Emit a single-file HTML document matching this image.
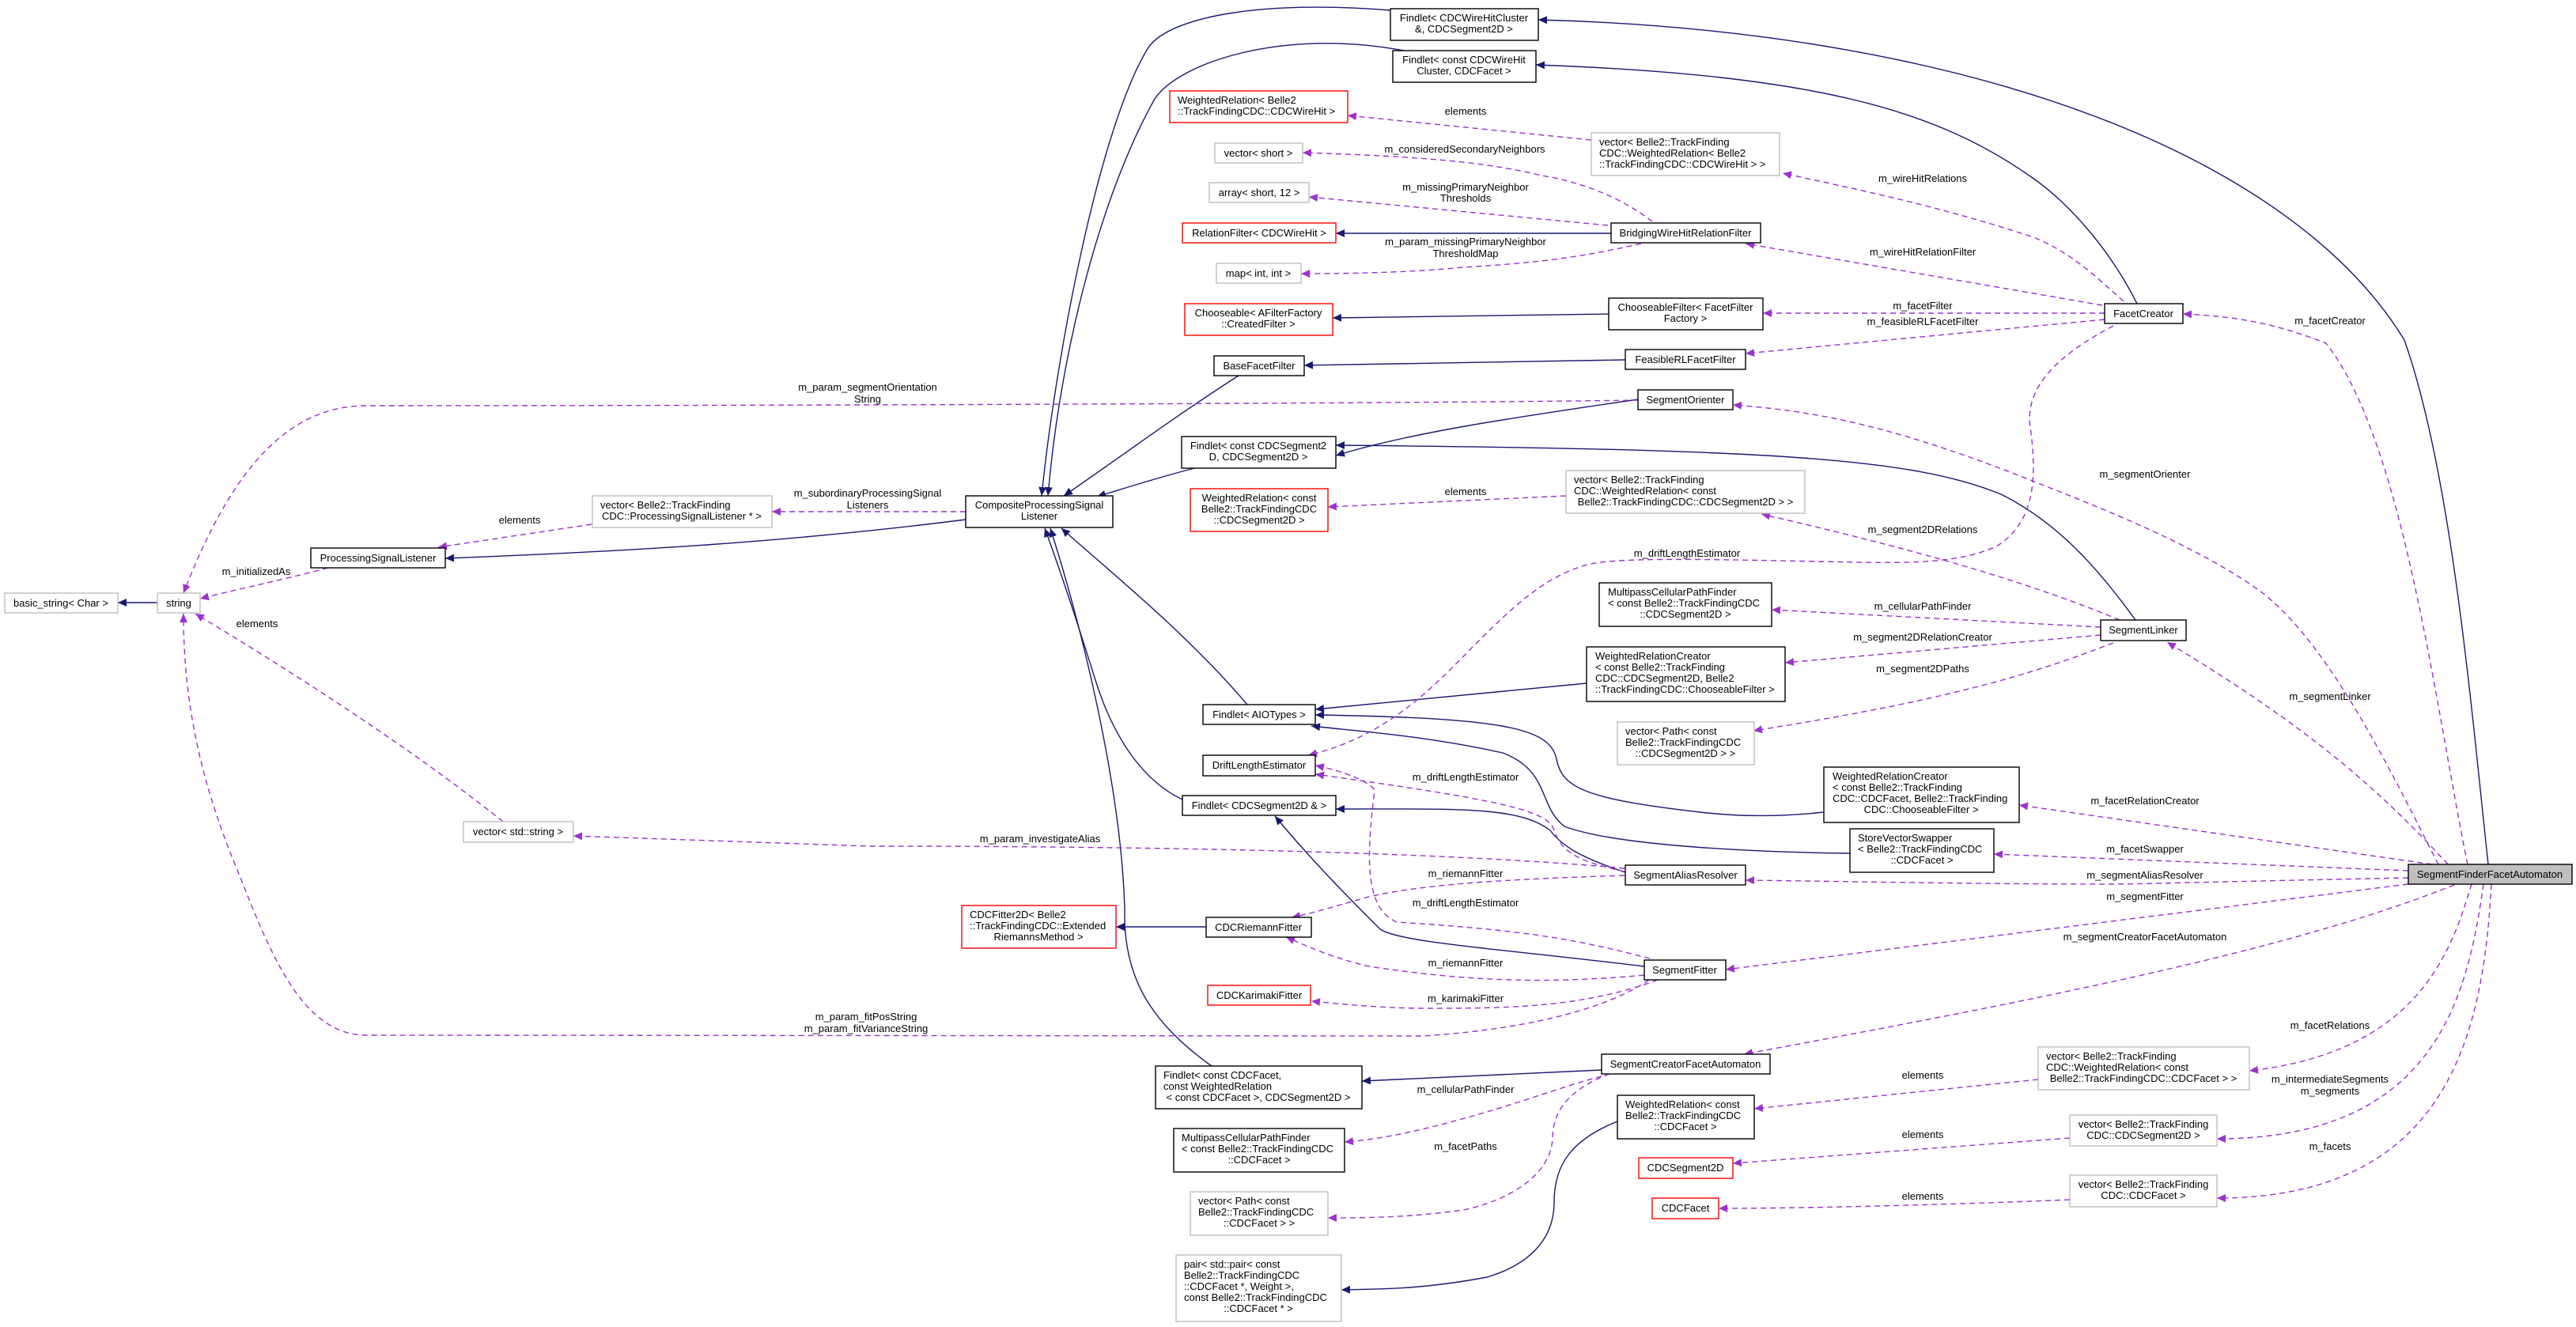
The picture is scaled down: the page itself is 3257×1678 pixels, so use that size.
<!DOCTYPE html>
<html><head><meta charset="utf-8"><style>
html,body{margin:0;padding:0;background:#fff;}
svg{display:block;}
text{font-family:"Liberation Sans",Arial,sans-serif;font-size:13px;fill:#000;}
.b{fill:none;stroke:#191970;stroke-width:1.4;}
.d{fill:none;stroke:#9a32cd;stroke-width:1.4;stroke-dasharray:7,5;}
.nb{fill:#fff;stroke:#000;stroke-width:1.4;}
.ng{fill:#fff;stroke:#bfbfbf;stroke-width:1.4;}
.nr{fill:#fff;stroke:#ff0000;stroke-width:1.4;}
.l{text-anchor:middle;}
</style></head><body>
<svg width="3257" height="1678" viewBox="0 0 3257 1678" xmlns="http://www.w3.org/2000/svg">
<defs>
<marker id="ab" markerUnits="userSpaceOnUse" markerWidth="12" markerHeight="10" refX="11" refY="5" orient="auto"><path d="M0,0 L11,5 L0,10 z" fill="#191970"/></marker>
<marker id="ad" markerUnits="userSpaceOnUse" markerWidth="12" markerHeight="10" refX="11" refY="5" orient="auto"><path d="M0,0 L11,5 L0,10 z" fill="#9a32cd"/></marker>
</defs>
<g marker-end="url(#ab)">
<path class="b" d="M199,762 L149,762"/>
<path class="b" d="M1221,657 C1000,685 800,697 563,706"/>
<path class="b" d="M1758,13 C1600,0 1480,20 1452,60 C1390,160 1335,450 1317,627"/>
<path class="b" d="M1775,64 C1620,35 1490,80 1460,125 C1390,250 1340,450 1325,627"/>
<path class="b" d="M1566,475 C1480,530 1400,590 1345,627"/>
<path class="b" d="M1510,592 C1460,605 1420,618 1387,628"/>
<path class="b" d="M1577,891 C1500,800 1400,720 1342,668"/>
<path class="b" d="M1495,1011 C1450,990 1410,940 1385,860 C1360,780 1340,720 1321,668"/>
<path class="b" d="M1532,1348 C1450,1290 1420,1230 1422,1150 C1418,1000 1370,800 1328,668"/>
<path class="b" d="M2037,295 L1689,295"/>
<path class="b" d="M2034,397 L1685,402"/>
<path class="b" d="M2055,455 L1649,462"/>
<path class="b" d="M2071,505 C1900,530 1780,548 1689,576"/>
<path class="b" d="M2700,784 C2650,715 2600,660 2530,625 C2420,580 2250,568 1689,563"/>
<path class="b" d="M2006,864 L1663,897"/>
<path class="b" d="M2306,1027 C2250,1033 2200,1033 2150,1027 C2000,1010 1975,995 1968,960 C1960,920 1900,908 1663,904"/>
<path class="b" d="M2339,1079 C2250,1078 2050,1072 1978,1045 C1945,1020 1960,975 1900,952 C1800,930 1720,925 1658,918"/>
<path class="b" d="M2055,1103 C2000,1085 1975,1070 1960,1050 C1920,1020 1850,1023 1689,1023"/>
<path class="b" d="M2079,1222 C1900,1200 1770,1192 1745,1175 C1710,1140 1660,1090 1612,1032"/>
<path class="b" d="M1525,1172 L1411,1172"/>
<path class="b" d="M2025,1353 L1722,1367"/>
<path class="b" d="M2045,1418 C1990,1440 1965,1470 1965,1520 C1965,1570 1930,1600 1880,1615 C1800,1630 1750,1630 1696,1631"/>
<path class="b" d="M3146,1093 C3125,900 3100,600 3040,430 C2900,200 2500,40 1945,25"/>
<path class="b" d="M2702,384 C2670,320 2620,260 2570,225 C2450,140 2300,95 1942,82"/>
</g>
<g marker-end="url(#ad)">
<path class="d" d="M415,718 C350,735 300,745 253,757"/>
<path class="d" d="M636,1039 C550,970 420,880 247,776"/>
<path class="d" d="M2071,506 C1800,510 1000,513 463,513 C360,513 290,600 232,750"/>
<path class="d" d="M2085,1239 C2040,1270 1950,1300 1800,1310 L463,1309 C380,1309 340,1200 300,1100 C250,980 232,880 232,776"/>
<path class="d" d="M1221,647 L976,647"/>
<path class="d" d="M748,663 L554,692"/>
<path class="d" d="M2012,177 L1704,146"/>
<path class="d" d="M2089,280 C2050,250 2000,230 1949,222 C1880,205 1800,198 1647,193"/>
<path class="d" d="M2033,285 L1655,249"/>
<path class="d" d="M2075,308 C2000,325 1950,332 1850,338 C1780,345 1700,346 1645,346"/>
<path class="d" d="M2685,381 C2650,350 2620,320 2571,300 C2450,260 2350,240 2254,219"/>
<path class="d" d="M2658,386 L2207,308"/>
<path class="d" d="M2661,396 L2229,396"/>
<path class="d" d="M2661,404 L2207,447"/>
<path class="d" d="M2672,412 C2600,450 2560,490 2567,540 C2575,600 2575,660 2524,691 C2470,715 2400,712 2300,710 C2150,707 2050,705 2012,713 C1960,725 1920,760 1870,810 C1820,860 1760,930 1654,955"/>
<path class="d" d="M1980,627 L1679,641"/>
<path class="d" d="M2680,784 C2550,730 2400,690 2227,650"/>
<path class="d" d="M2656,793 L2240,771"/>
<path class="d" d="M2656,803 L2257,838"/>
<path class="d" d="M2672,813 C2600,840 2500,880 2217,924"/>
<path class="d" d="M3120,1093 C3080,900 3040,560 2941,434 C2880,410 2830,400 2760,397"/>
<path class="d" d="M3083,1093 C3030,990 2950,820 2861,750 C2780,690 2650,640 2577,611 C2400,540 2300,520 2191,512"/>
<path class="d" d="M3095,1093 C3010,1000 2920,920 2740,812"/>
<path class="d" d="M3075,1093 L2553,1018"/>
<path class="d" d="M3045,1101 L2521,1080"/>
<path class="d" d="M3045,1110 C2800,1115 2700,1118 2672,1118 C2500,1118 2300,1114 2207,1113"/>
<path class="d" d="M3045,1118 L2182,1226"/>
<path class="d" d="M3103,1119 C2900,1200 2600,1260 2205,1333"/>
<path class="d" d="M3125,1118 C3100,1200 3060,1330 2844,1354"/>
<path class="d" d="M3140,1118 C3120,1260 3080,1440 2803,1440"/>
<path class="d" d="M3150,1118 C3140,1300 3100,1515 2803,1515"/>
<path class="d" d="M2577,1365 L2218,1402"/>
<path class="d" d="M2617,1439 L2191,1471"/>
<path class="d" d="M2617,1517 C2500,1522 2300,1528 2173,1528"/>
<path class="d" d="M2054,1098 C1800,1075 1400,1070 1100,1070 L725,1057"/>
<path class="d" d="M2054,1102 C2000,1090 1975,1080 1965,1050 C1958,1025 1900,1012 1663,979"/>
<path class="d" d="M2054,1107 C1900,1112 1800,1118 1731,1134 C1690,1145 1660,1155 1633,1160"/>
<path class="d" d="M2086,1212 C2000,1190 1942,1177 1766,1166 C1730,1150 1725,1100 1738,1000 C1735,990 1700,975 1663,968"/>
<path class="d" d="M2079,1233 C1950,1245 1850,1240 1731,1222 C1680,1210 1650,1195 1626,1185"/>
<path class="d" d="M2096,1239 C2000,1275 1900,1275 1802,1275 C1750,1275 1700,1270 1658,1266"/>
<path class="d" d="M2025,1361 C1990,1370 1963,1380 1900,1400 C1800,1430 1750,1440 1700,1444"/>
<path class="d" d="M2035,1358 C1990,1375 1963,1400 1963,1440 C1960,1490 1900,1520 1850,1530 C1780,1540 1720,1540 1679,1540"/>
</g>

<!-- nodes -->
<rect class="ng" x="6" y="750" width="143" height="25"/><text class="l" x="77" y="767">basic_string&lt; Char &gt;</text>
<rect class="ng" x="199" y="750" width="54" height="25"/><text class="l" x="226" y="767">string</text>
<rect class="nb" x="393" y="693" width="170" height="25"/><text class="l" x="478" y="710">ProcessingSignalListener</text>
<rect class="ng" x="749" y="627" width="227" height="40"/><text x="759" y="643">vector&lt; Belle2::TrackFinding</text><text class="l" x="862" y="657">CDC::ProcessingSignalListener * &gt;</text>
<rect class="nb" x="1221" y="627" width="186" height="40"/><text class="l" x="1314" y="643">CompositeProcessingSignal</text><text class="l" x="1314" y="657">Listener</text>
<rect class="nb" x="1758" y="11" width="187" height="40"/><text class="l" x="1851" y="27">Findlet&lt; CDCWireHitCluster</text><text class="l" x="1851" y="41">&amp;, CDCSegment2D &gt;</text>
<rect class="nb" x="1761" y="64" width="181" height="40"/><text class="l" x="1851" y="80">Findlet&lt; const CDCWireHit</text><text class="l" x="1851" y="94">Cluster, CDCFacet &gt;</text>
<rect class="nr" x="1479" y="115" width="225" height="40"/><text x="1489" y="131">WeightedRelation&lt; Belle2</text><text x="1489" y="145">::TrackFindingCDC::CDCWireHit &gt;</text>
<rect class="ng" x="1536" y="181" width="111" height="25"/><text class="l" x="1591" y="198">vector&lt; short &gt;</text>
<rect class="ng" x="1529" y="231" width="126" height="25"/><text class="l" x="1592" y="248">array&lt; short, 12 &gt;</text>
<rect class="nr" x="1495" y="282" width="194" height="25"/><text class="l" x="1592" y="299">RelationFilter&lt; CDCWireHit &gt;</text>
<rect class="ng" x="1538" y="333" width="107" height="25"/><text class="l" x="1591" y="350">map&lt; int, int &gt;</text>
<rect class="nr" x="1498" y="384" width="187" height="40"/><text class="l" x="1591" y="400">Chooseable&lt; AFilterFactory</text><text class="l" x="1591" y="414">::CreatedFilter &gt;</text>
<rect class="nb" x="1535" y="450" width="114" height="25"/><text class="l" x="1592" y="467">BaseFacetFilter</text>
<rect class="nb" x="1494" y="552" width="195" height="40"/><text class="l" x="1591" y="568">Findlet&lt; const CDCSegment2</text><text class="l" x="1591" y="582">D, CDCSegment2D &gt;</text>
<rect class="nr" x="1505" y="618" width="174" height="54"/><text class="l" x="1592" y="634">WeightedRelation&lt; const</text><text class="l" x="1592" y="648">Belle2::TrackFindingCDC</text><text class="l" x="1592" y="662">::CDCSegment2D &gt;</text>
<rect class="ng" x="2012" y="168" width="238" height="54"/><text x="2022" y="184">vector&lt; Belle2::TrackFinding</text><text x="2022" y="198">CDC::WeightedRelation&lt; Belle2</text><text x="2022" y="212">::TrackFindingCDC::CDCWireHit &gt; &gt;</text>
<rect class="nb" x="2037" y="282" width="189" height="25"/><text class="l" x="2131" y="299">BridgingWireHitRelationFilter</text>
<rect class="nb" x="2034" y="377" width="195" height="40"/><text class="l" x="2131" y="393">ChooseableFilter&lt; FacetFilter</text><text class="l" x="2131" y="407">Factory &gt;</text>
<rect class="nb" x="2055" y="442" width="152" height="25"/><text class="l" x="2131" y="459">FeasibleRLFacetFilter</text>
<rect class="nb" x="2071" y="493" width="120" height="25"/><text class="l" x="2131" y="510">SegmentOrienter</text>
<rect class="ng" x="1980" y="595" width="302" height="54"/><text x="1990" y="611">vector&lt; Belle2::TrackFinding</text><text x="1990" y="625">CDC::WeightedRelation&lt; const</text><text class="l" x="2131" y="639">Belle2::TrackFindingCDC::CDCSegment2D &gt; &gt;</text>
<rect class="nb" x="2022" y="737" width="218" height="55"/><text x="2033" y="753">MultipassCellularPathFinder</text><text x="2033" y="767">&lt; const Belle2::TrackFindingCDC</text><text class="l" x="2131" y="781">::CDCSegment2D &gt;</text>
<rect class="nb" x="2006" y="818" width="251" height="69"/><text x="2017" y="834">WeightedRelationCreator</text><text x="2017" y="848">&lt; const Belle2::TrackFinding</text><text x="2017" y="862">CDC::CDCSegment2D, Belle2</text><text x="2017" y="876">::TrackFindingCDC::ChooseableFilter &gt;</text>
<rect class="nb" x="2661" y="384" width="99" height="25"/><text class="l" x="2710" y="401">FacetCreator</text>
<rect class="nb" x="2656" y="784" width="108" height="26"/><text class="l" x="2710" y="801">SegmentLinker</text>
<rect class="nb" x="1521" y="891" width="142" height="25"/><text class="l" x="1592" y="908">Findlet&lt; AIOTypes &gt;</text>
<rect class="nb" x="1521" y="955" width="142" height="26"/><text class="l" x="1592" y="972">DriftLengthEstimator</text>
<rect class="nb" x="1495" y="1006" width="194" height="25"/><text class="l" x="1592" y="1023">Findlet&lt; CDCSegment2D &amp; &gt;</text>
<rect class="ng" x="2045" y="913" width="173" height="54"/><text x="2055" y="929">vector&lt; Path&lt; const</text><text x="2055" y="943">Belle2::TrackFindingCDC</text><text class="l" x="2131" y="957">::CDCSegment2D &gt; &gt;</text>
<rect class="nb" x="2055" y="1094" width="152" height="25"/><text class="l" x="2131" y="1111">SegmentAliasResolver</text>
<rect class="nr" x="1216" y="1145" width="195" height="54"/><text x="1226" y="1161">CDCFitter2D&lt; Belle2</text><text x="1226" y="1175">::TrackFindingCDC::Extended</text><text class="l" x="1313" y="1189">RiemannsMethod &gt;</text>
<rect class="nb" x="1525" y="1160" width="133" height="25"/><text class="l" x="1591" y="1177">CDCRiemannFitter</text>
<rect class="nb" x="2079" y="1214" width="103" height="25"/><text class="l" x="2130" y="1231">SegmentFitter</text>
<rect class="nr" x="1527" y="1246" width="130" height="25"/><text class="l" x="1592" y="1263">CDCKarimakiFitter</text>
<rect class="nb" x="1461" y="1348" width="261" height="54"/><text x="1471" y="1364">Findlet&lt; const CDCFacet,</text><text x="1471" y="1378"> const WeightedRelation</text><text class="l" x="1591" y="1392">&lt; const CDCFacet &gt;, CDCSegment2D &gt;</text>
<rect class="nb" x="2025" y="1333" width="213" height="25"/><text class="l" x="2131" y="1350">SegmentCreatorFacetAutomaton</text>
<rect class="nb" x="1484" y="1427" width="216" height="55"/><text x="1494" y="1443">MultipassCellularPathFinder</text><text x="1494" y="1457">&lt; const Belle2::TrackFindingCDC</text><text class="l" x="1592" y="1471">::CDCFacet &gt;</text>
<rect class="nb" x="2045" y="1385" width="173" height="55"/><text x="2055" y="1401">WeightedRelation&lt; const</text><text x="2055" y="1415">Belle2::TrackFindingCDC</text><text class="l" x="2131" y="1429">::CDCFacet &gt;</text>
<rect class="nr" x="2072" y="1464" width="119" height="26"/><text class="l" x="2131" y="1481">CDCSegment2D</text>
<rect class="nr" x="2089" y="1515" width="84" height="26"/><text class="l" x="2131" y="1532">CDCFacet</text>
<rect class="ng" x="1505" y="1507" width="174" height="55"/><text x="1515" y="1523">vector&lt; Path&lt; const</text><text x="1515" y="1537">Belle2::TrackFindingCDC</text><text class="l" x="1592" y="1551">::CDCFacet &gt; &gt;</text>
<rect class="ng" x="1487" y="1587" width="209" height="84"/><text x="1497" y="1603">pair&lt; std::pair&lt; const</text><text x="1497" y="1617"> Belle2::TrackFindingCDC</text><text x="1497" y="1631">::CDCFacet *, Weight &gt;,</text><text x="1497" y="1645"> const Belle2::TrackFindingCDC</text><text class="l" x="1591" y="1659">::CDCFacet * &gt;</text>
<rect class="ng" x="586" y="1039" width="139" height="26"/><text class="l" x="655" y="1056">vector&lt; std::string &gt;</text>
<rect class="nb" x="2306" y="970" width="247" height="70"/><text x="2317" y="986">WeightedRelationCreator</text><text x="2317" y="1000">&lt; const Belle2::TrackFinding</text><text x="2317" y="1014">CDC::CDCFacet, Belle2::TrackFinding</text><text class="l" x="2429" y="1028">CDC::ChooseableFilter &gt;</text>
<rect class="nb" x="2339" y="1048" width="182" height="55"/><text x="2349" y="1064">StoreVectorSwapper</text><text x="2349" y="1078">&lt; Belle2::TrackFindingCDC</text><text class="l" x="2430" y="1092">::CDCFacet &gt;</text>
<rect class="ng" x="2577" y="1324" width="267" height="54"/><text x="2587" y="1340">vector&lt; Belle2::TrackFinding</text><text x="2587" y="1354">CDC::WeightedRelation&lt; const</text><text class="l" x="2710" y="1368">Belle2::TrackFindingCDC::CDCFacet &gt; &gt;</text>
<rect class="ng" x="2617" y="1410" width="186" height="39"/><text class="l" x="2710" y="1426">vector&lt; Belle2::TrackFinding</text><text class="l" x="2710" y="1440">CDC::CDCSegment2D &gt;</text>
<rect class="ng" x="2617" y="1486" width="186" height="40"/><text class="l" x="2710" y="1502">vector&lt; Belle2::TrackFinding</text><text class="l" x="2710" y="1516">CDC::CDCFacet &gt;</text>
<rect x="3045" y="1093" width="207" height="25" fill="#bfbfbf" stroke="#000" stroke-width="1.4"/><text class="l" x="3148" y="1110">SegmentFinderFacetAutomaton</text>

<!-- edge labels -->
<g class="l">
<text class="l" x="1097" y="494">m_param_segmentOrientation</text><text class="l" x="1097" y="509">String</text>
<text class="l" x="1097" y="628">m_subordinaryProcessingSignal</text><text class="l" x="1097" y="643">Listeners</text>
<text class="l" x="657" y="662">elements</text>
<text class="l" x="324" y="727">m_initializedAs</text>
<text class="l" x="325" y="793">elements</text>
<text class="l" x="1853" y="145">elements</text>
<text class="l" x="1852" y="193">m_consideredSecondaryNeighbors</text>
<text class="l" x="1853" y="241">m_missingPrimaryNeighbor</text><text class="l" x="1853" y="255">Thresholds</text>
<text class="l" x="1853" y="310">m_param_missingPrimaryNeighbor</text><text class="l" x="1853" y="325">ThresholdMap</text>
<text class="l" x="1853" y="626">elements</text>
<text class="l" x="2133" y="704">m_driftLengthEstimator</text>
<text class="l" x="2431" y="230">m_wireHitRelations</text>
<text class="l" x="2431" y="323">m_wireHitRelationFilter</text>
<text class="l" x="2431" y="391">m_facetFilter</text>
<text class="l" x="2431" y="411">m_feasibleRLFacetFilter</text>
<text class="l" x="2946" y="410">m_facetCreator</text>
<text class="l" x="2712" y="604">m_segmentOrienter</text>
<text class="l" x="2431" y="674">m_segment2DRelations</text>
<text class="l" x="2431" y="771">m_cellularPathFinder</text>
<text class="l" x="2431" y="810">m_segment2DRelationCreator</text>
<text class="l" x="2431" y="850">m_segment2DPaths</text>
<text class="l" x="2946" y="885">m_segmentLinker</text>
<text class="l" x="2712" y="1017">m_facetRelationCreator</text>
<text class="l" x="2712" y="1078">m_facetSwapper</text>
<text class="l" x="2712" y="1111">m_segmentAliasResolver</text>
<text class="l" x="2712" y="1138">m_segmentFitter</text>
<text class="l" x="2712" y="1189">m_segmentCreatorFacetAutomaton</text>
<text class="l" x="2946" y="1301">m_facetRelations</text>
<text class="l" x="2946" y="1369">m_intermediateSegments</text><text class="l" x="2946" y="1384">m_segments</text>
<text class="l" x="2946" y="1454">m_facets</text>
<text class="l" x="2431" y="1364">elements</text>
<text class="l" x="2431" y="1439">elements</text>
<text class="l" x="2431" y="1517">elements</text>
<text class="l" x="1853" y="987">m_driftLengthEstimator</text>
<text class="l" x="1315" y="1065">m_param_investigateAlias</text>
<text class="l" x="1853" y="1109">m_riemannFitter</text>
<text class="l" x="1853" y="1146">m_driftLengthEstimator</text>
<text class="l" x="1853" y="1222">m_riemannFitter</text>
<text class="l" x="1853" y="1267">m_karimakiFitter</text>
<text class="l" x="1095" y="1290">m_param_fitPosString</text><text class="l" x="1095" y="1305">m_param_fitVarianceString</text>
<text class="l" x="1853" y="1382">m_cellularPathFinder</text>
<text class="l" x="1853" y="1454">m_facetPaths</text>
</g>
</svg>
</body></html>
